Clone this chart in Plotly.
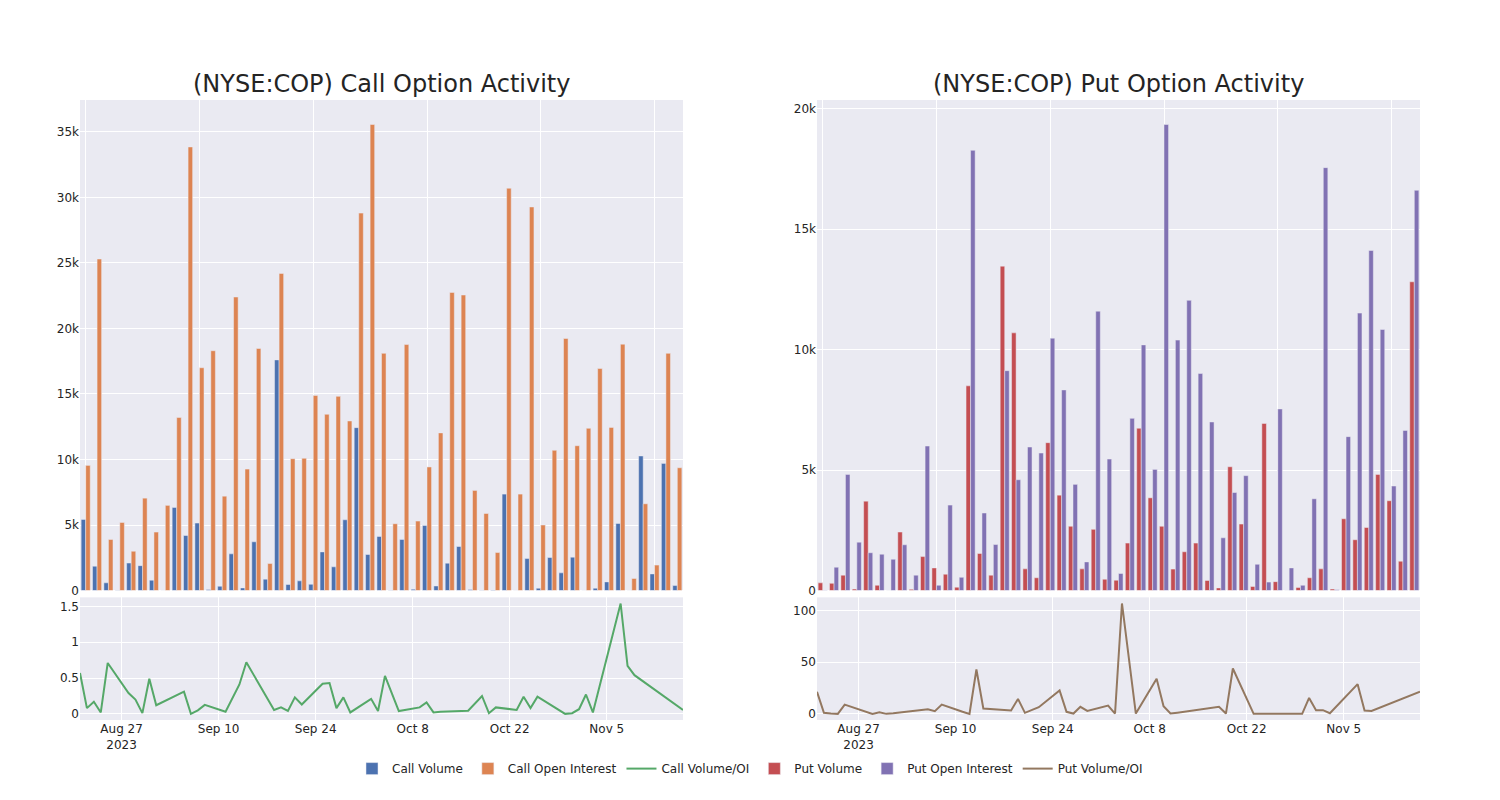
import plotly.graph_objects as go
from plotly.subplots import make_subplots

dates = ["2023-08-21", "2023-08-22", "2023-08-23", "2023-08-24", "2023-08-25",
         "2023-08-28", "2023-08-29", "2023-08-30", "2023-08-31", "2023-09-01",
         "2023-09-05", "2023-09-06", "2023-09-07", "2023-09-08",
         "2023-09-11", "2023-09-12", "2023-09-13", "2023-09-14",
         "2023-09-18", "2023-09-19", "2023-09-20", "2023-09-21", "2023-09-22",
         "2023-09-25", "2023-09-26", "2023-09-27", "2023-09-28", "2023-09-29",
         "2023-10-02", "2023-10-03", "2023-10-04", "2023-10-06",
         "2023-10-09", "2023-10-10", "2023-10-11", "2023-10-12",
         "2023-10-16", "2023-10-18", "2023-10-19", "2023-10-20",
         "2023-10-23", "2023-10-24", "2023-10-25", "2023-10-26",
         "2023-10-30", "2023-10-31", "2023-11-01", "2023-11-02", "2023-11-03",
         "2023-11-07", "2023-11-08", "2023-11-09", "2023-11-16"]

call_volume = [5430, 1860, 590, 30, 2100, 1900, 790, 10, 6340, 4200,
               5150, 80, 330, 2800, 200, 3720, 870, 17600, 460, 740,
               480, 2950, 1810, 5400, 12430, 2750, 4130, 20, 3900, 100,
               4970, 350, 2090, 3360, 80, 30, 50, 7360, 10, 2440,
               180, 2520, 1350, 2550, 10, 180, 660, 5120, 0, 10270,
               1270, 9700, 380]

call_oi = [9550, 25300, 3900, 5200, 3000, 7050, 4460, 6500, 13200, 33850,
           17000, 18300, 7200, 22400, 9270, 18470, 2060, 24200, 10060, 10090,
           14880, 13450, 14820, 12940, 28800, 35560, 18100, 5100, 18770, 5300,
           9430, 12030, 22750, 22550, 7640, 5880, 2900, 30700, 7360, 29270,
           5000, 10700, 19230, 11050, 12380, 16940, 12450, 18800, 920, 6620,
           1940, 18100, 9370]

call_ratio = [0.57, 0.08, 0.17, 0.02, 0.71, 0.29, 0.20, 0.01, 0.49, 0.12,
              0.31, 0.00, 0.05, 0.125, 0.03, 0.21, 0.41, 0.72, 0.055, 0.09,
              0.04, 0.23, 0.13, 0.42, 0.43, 0.08, 0.23, 0.02, 0.21, 0.04,
              0.53, 0.04, 0.09, 0.16, 0.02, 0.03, 0.045, 0.25, 0.01, 0.09,
              0.055, 0.24, 0.08, 0.24, 0.00, 0.01, 0.065, 0.27, 0.02, 1.54,
              0.67, 0.54, 0.055]

put_volume = [320, 300, 640, 60, 3710, 220, 0, 2430, 50, 1410,
              940, 680, 140, 8500, 1540, 640, 13470, 10700, 900, 530,
              6140, 3960, 2670, 900, 2540, 470, 430, 1970, 6740, 3850,
              2670, 890, 1610, 1970, 420, 110, 5140, 2760, 170, 6940,
              370, 0, 130, 530, 900, 60, 2980, 2110, 2620, 4820,
              3730, 1220, 12820]

put_oi = [15, 970, 4820, 2010, 1570, 1510, 1300, 1900, 640, 6000,
          220, 3550, 550, 18280, 3220, 1910, 9130, 4600, 5960, 5710,
          10480, 8330, 4410, 1190, 11600, 5460, 710, 7150, 10200, 5030,
          19350, 10400, 12050, 9010, 7000, 2190, 4070, 4770, 1090, 350,
          7540, 940, 220, 3810, 17560, 30, 6390, 11520, 14120, 10840,
          4340, 6650, 16620]

put_ratio = [21.4, 1.0, 0.3, 0.0, 9.0, 2.0, 0.0, 1.6, 0.0, 0.5,
             3.7, 4.5, 2.6, 9.0, 2.0, 0.0, 43.0, 5.2, 3.2, 14.5,
             1.0, 3.9, 6.5, 22.6, 2.0, 0.3, 6.8, 2.9, 8.0, 0.3,
             107.0, 0.3, 34.0, 7.4, 0.3, 1.2, 4.9, 6.8, 0.3, 44.0,
             0.0, 0.0, 0.0, 0.0, 0.0, 15.5, 3.6, 3.6, 0.6, 28.8,
             3.2, 2.9, 21.4]

titles = ["(NYSE:COP) Call Option Activity", "(NYSE:COP) Put Option Activity"]

fig = make_subplots(rows=2, cols=2, row_heights=[0.8, 0.2],
                    vertical_spacing=0.011, horizontal_spacing=0.1,
                    subplot_titles=[titles[0], titles[1], "", ""])

fig.add_trace(go.Bar(x=dates, y=call_volume, name="Call Volume"), row=1, col=1)
fig.add_trace(go.Bar(x=dates, y=call_oi, name="Call Open Interest"), row=1, col=1)
fig.add_trace(go.Scatter(x=dates, y=call_ratio, mode="lines", name="Call Volume/OI"), row=2, col=1)
fig.add_trace(go.Bar(x=dates, y=put_volume, name="Put Volume"), row=1, col=2)
fig.add_trace(go.Bar(x=dates, y=put_oi, name="Put Open Interest"), row=1, col=2)
fig.add_trace(go.Scatter(x=dates, y=put_ratio, mode="lines", name="Put Volume/OI"), row=2, col=2)

grid_ticks = [dates[i] for i in range(0, len(dates), 10)]
for c in (1, 2):
    fig.update_xaxes(type="category", showticklabels=False, tickmode="array",
                     tickvals=grid_ticks, row=1, col=c)
    fig.update_xaxes(type="date", row=2, col=c)

for ann in fig.layout.annotations:
    ann.font.size = 24

fig.update_layout(
    template="seaborn",
    font=dict(family="DejaVu Sans"),
    width=1500, height=800,
    margin=dict(l=72, r=88, t=92, b=88),
    barmode="group",
    legend=dict(orientation="h", x=0.5, xanchor="center", y=-0.055, yanchor="top"),
)

fig.write_html("out.html")
